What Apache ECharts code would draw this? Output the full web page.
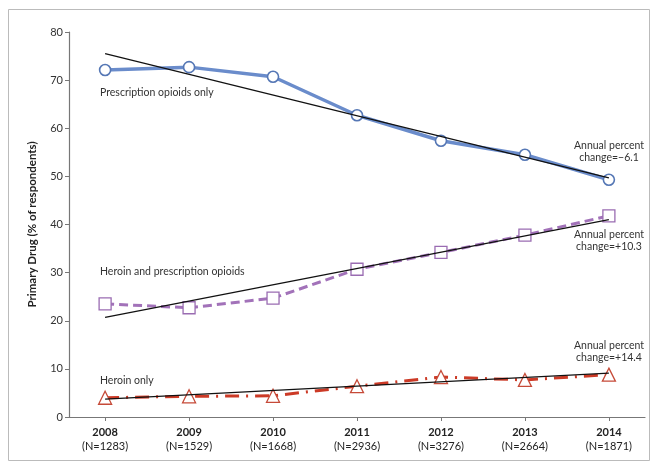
<!DOCTYPE html>
<html>
<head>
<meta charset="utf-8">
<script src="https://cdn.jsdelivr.net/npm/echarts@6/dist/echarts.min.js"></script>
<style>
  html, body { margin: 0; padding: 0; background: #fff; }
  #chart { width: 654px; height: 465px; }
</style>
</head>
<body>
<div id="chart"></div>
<script>
// data
const years = [2008, 2009, 2010, 2011, 2012, 2013, 2014]
const respondents = [1283, 1529, 1668, 2936, 3276, 2664, 1871]

const prescriptionOnly = [72.1, 72.7, 70.7, 62.7, 57.4, 54.5, 49.3]
const heroinAndPrescription = [23.5, 22.7, 24.7, 30.7, 34.2, 37.8, 41.8]
const heroinOnly = [4.0, 4.3, 4.4, 6.4, 8.3, 7.7, 8.8]

// fitted trend lines, start (2008) and end (2014)
const trendYears = [2008, 2014]
const trendPrescription = [75.5, 49.7]
const trendBoth = [20.7, 41.0]
const trendHeroin = [3.7, 9.1]

const yTicks = [0, 10, 20, 30, 40, 50, 60, 70, 80]

const pair = (xs, ys) => xs.map((x, i) => [x, ys[i]])

const chart = echarts.init(document.getElementById('chart'))
const font = 'Lato'

const trendSeries = (vals) => ({
  type: 'line',
  data: pair(trendYears, vals),
  showSymbol: false,
  symbol: 'none',
  z: 4,
  silent: true,
  lineStyle: { color: '#111', width: 1.3 },
})

// "Annual percent change" notes, centred on x
const annot = (top, txt) => ({
  type: 'text',
  x: 609,
  y: top,
  style: {
    text: 'Annual percent\n' + txt,
    fontFamily: font,
    fontSize: 10.5,
    lineHeight: 12,
    fill: '#333',
    textAlign: 'center',
  },
})

const seriesLabel = (top, txt) => ({
  type: 'text',
  left: 100,
  top: top,
  style: { text: txt, fontFamily: font, fontSize: 10.5, fill: '#333' },
})

chart.setOption({
  animation: false,
  textStyle: { fontFamily: font },
  grid: { left: 69, right: 9, top: 32, bottom: 48 },
  xAxis: {
    type: 'value',
    min: 2007.57,
    max: 2014.43,
    splitLine: { show: false },
    axisLine: { show: true, lineStyle: { color: '#777', width: 1.2 } },
    axisTick: { show: true, customValues: years, length: 4, lineStyle: { color: '#777' } },
    axisLabel: {
      customValues: years,
      margin: 8,
      color: '#222',
      fontSize: 11,
      lineHeight: 14,
      formatter: (v) => {
        const i = years.indexOf(Math.round(v))
        return '{y|' + years[i] + '}\n(N=' + respondents[i] + ')'
      },
      rich: { y: { fontSize: 11, fontWeight: 'bold', color: '#222', fontFamily: font } },
    },
  },
  yAxis: {
    type: 'value',
    min: 0,
    max: 80,
    interval: 10,
    name: 'Primary Drug (% of respondents)',
    nameLocation: 'middle',
    nameGap: 31,
    nameTextStyle: { fontSize: 11.5, fontWeight: 'bold', color: '#222', fontFamily: font },
    splitLine: { show: false },
    axisLine: { show: true, lineStyle: { color: '#777', width: 1.2 } },
    axisTick: { show: true, length: 4, lineStyle: { color: '#777' } },
    axisLabel: {
      color: '#333',
      fontSize: 11,
      margin: 6,
      customValues: yTicks,
    },
  },
  series: [
    {
      name: 'Prescription opioids only',
      type: 'line',
      data: pair(years, prescriptionOnly),
      symbol: 'circle',
      symbolSize: 11,
      z: 3,
      lineStyle: { color: '#6a8ccb', width: 3.5 },
      itemStyle: { color: '#fff', borderColor: '#5577b5', borderWidth: 1.6 },
    },
    {
      name: 'Heroin and prescription opioids',
      type: 'line',
      data: pair(years, heroinAndPrescription),
      symbol: 'rect',
      symbolSize: 12,
      z: 3,
      lineStyle: { color: '#a272b9', width: 3, type: [9, 5] },
      itemStyle: { color: '#fff', borderColor: '#9a6cb2', borderWidth: 1.3 },
    },
    {
      name: 'Heroin only',
      type: 'line',
      data: pair(years, heroinOnly),
      symbol: 'triangle',
      symbolSize: 13,
      z: 3,
      lineStyle: { color: '#cc3a26', width: 3, type: [14, 7, 2, 7] },
      itemStyle: { color: '#fff', borderColor: '#c64a38', borderWidth: 1.3 },
    },
    trendSeries(trendPrescription),
    trendSeries(trendBoth),
    trendSeries(trendHeroin),
  ],
  graphic: [
    {
      type: 'rect',
      left: 6,
      top: 7,
      shape: { width: 641, height: 451 },
      style: { fill: 'none', stroke: '#bbb', lineWidth: 1 },
      silent: true,
    },
    seriesLabel(87, 'Prescription opioids only'),
    seriesLabel(266, 'Heroin and prescription opioids'),
    seriesLabel(375, 'Heroin only'),
    annot(140, 'change=\u22126.1'),
    annot(229, 'change=+10.3'),
    annot(340, 'change=+14.4'),
  ],
})
</script>
</body>
</html>
